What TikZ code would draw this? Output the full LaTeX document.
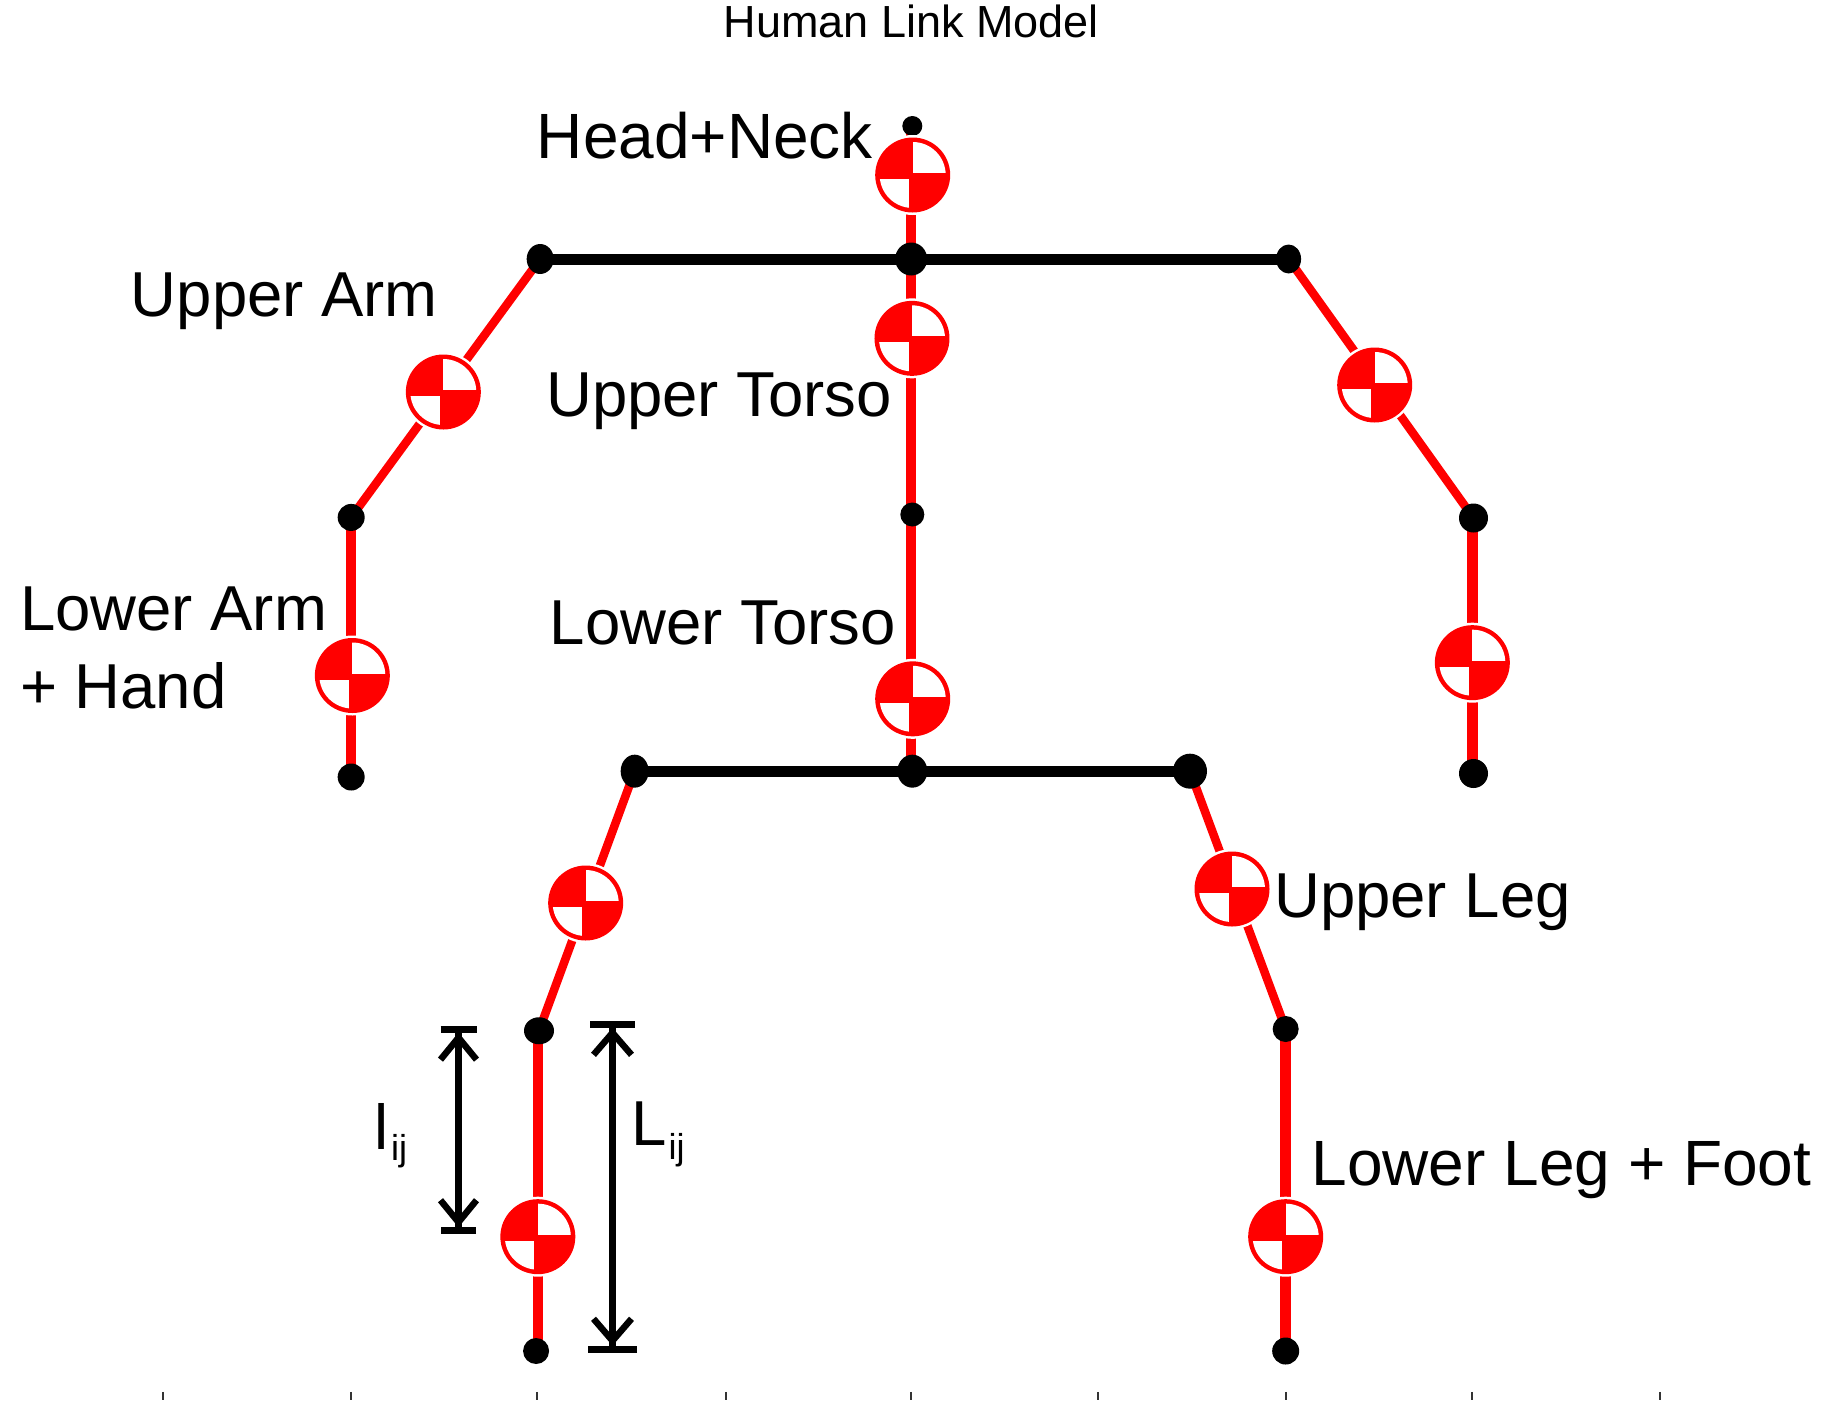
\documentclass[tikz,border=0pt]{standalone}
\usepackage{fontspec}
\setmainfont{Liberation Sans}
\usetikzlibrary{arrows.meta,backgrounds,shapes.geometric}
\tikzset{
  dot/.style={circle,fill=black,inner sep=0pt,minimum size=#1},
  dot/.default=24pt,
  oval/.style 2 args={ellipse,fill=black,inner sep=0pt,minimum width=#1,minimum height=#2},
  com/.style={circle,inner sep=0pt,minimum size=80pt,fill=white,
    path picture={
      \fill[red] (path picture bounding box.center) circle (37.5pt);
      \begin{scope}
        \clip (path picture bounding box.center) circle (33pt);
        \fill[white] ([yshift=2pt]path picture bounding box.center) rectangle ++(40pt,40pt);
        \fill[white] ([xshift=-3.4pt,yshift=-4pt]path picture bounding box.center) rectangle ++(-40pt,-40pt);
      \end{scope}
    }},
  redlink/.style={draw=red,line width=10.5pt},
  armlink/.style={draw=red,line width=8.5pt},
  barlink/.style={draw=black,line width=11pt},
  dim/.style={draw=black,line width=6.5pt,
    {Bar[width=36pt,line width=7pt,length=0pt]Straight Barb[length=22pt,width=36pt,line width=6.5pt]}-{Straight Barb[length=22pt,width=36pt,line width=6.5pt]Bar[width=35pt,line width=7pt,length=0pt]}},
  dimlong/.style={draw=black,line width=6.5pt,
    {Bar[width=45pt,line width=7pt,length=0pt]Straight Barb[length=22pt,width=38pt,line width=6.5pt]}-{Straight Barb[length=22pt,width=38pt,line width=6.5pt]Bar[width=49pt,line width=7pt,length=0pt]}},
  lab/.style={anchor=base west,inner sep=0pt,font=\fontsize{63.5}{64}\selectfont},
  labwide/.style={anchor=base west,inner sep=0pt,font=\fontsize{64}{64}\selectfont},
  ttl/.style={anchor=base,inner sep=0pt,font=\fontsize{45}{45}\selectfont},
  sub/.style={anchor=base west,inner sep=0pt,font=\fontsize{36}{36}\selectfont},
  tick/.style={draw=black!80,line width=2pt},
}
\begin{document}
\begin{tikzpicture}[x=1.16667pt,y=-1.16667pt]
\useasboundingbox (0,0) rectangle (1566.86,1200);
% title and labels
\node[ttl] (title) at (781,32.5) {Human Link Model};
\node[labwide] (lhead) at (460,136) {Head+Neck};
\node[lab] (luarm) at (112,271) {Upper Arm};
\node[lab] (lutorso) at (468,357) {Upper Torso};
\node[lab] (llarm) at (17,540) {Lower Arm};
\node[lab] (lhand) at (17,607) {+ Hand};
\node[lab] (lltorso) at (471,552) {Lower Torso};
\node[lab] (luleg) at (1092,786) {Upper Leg};
\node[labwide] (llleg) at (1124,1016) {Lower Leg + Foot};
\node[lab] (lsmall) at (321,985) {l};
\node[sub] (lsmallsub) at (335,995) {ij};
\node[lab] (lbig) at (541,982) {L};
\node[sub] (lbigsub) at (573,994) {ij};
% joints
\node[dot=20pt] (head) at (782,108) {};
\node[oval={27pt}{30pt}] (shL) at (463,222) {};
\node[oval={32pt}{33pt}] (neck) at (781,222) {};
\node[oval={25pt}{29pt}] (shR) at (1104.5,222) {};
\node[dot=27pt] (elL) at (301,443.5) {};
\node[dot=27pt] (wrL) at (301,666) {};
\node[dot=29pt] (elR) at (1263,444) {};
\node[dot=29pt] (wrR) at (1263,663) {};
\node[dot=24pt] (waist) at (782,441) {};
\node[oval={30pt}{33pt}] (pelvis) at (782,661) {};
\node[oval={28pt}{33pt}] (hipL) at (544,661) {};
\node[oval={34pt}{35pt}] (hipR) at (1020,661) {};
\node[oval={30pt}{27pt}] (knL) at (462,883.5) {};
\node[dot=26pt] (anL) at (459.5,1158) {};
\node[dot=26pt] (knR) at (1102,882) {};
\node[dot=27pt] (anR) at (1102,1158) {};
% centres of mass
\node[com] (cHead) at (782.3,150) {};
\node[com] (cUT) at (781.7,290) {};
\node[com] (cLT) at (782.3,599) {};
\node[com] (cUAL) at (380,336) {};
\node[com] (cLAL) at (302,579) {};
\node[com] (cUAR) at (1178.3,330) {};
\node[com] (cLAR) at (1262,568) {};
\node[com] (cULL) at (502,774) {};
\node[com] (cLLL) at (461,1060) {};
\node[com] (cULR) at (1056,762) {};
\node[com] (cLLR) at (1102,1060) {};
% dimension ends
\coordinate (lTop) at (393,879);
\coordinate (lBot) at (393,1058);
\coordinate (LTop) at (525,875);
\coordinate (LBot) at (525,1159.5);
\begin{pgfonlayer}{background}
\draw[redlink] (neck.center |- head.center) -- (neck.center |- pelvis.center);
\draw[armlink] (shL.center) -- (elL.center);
\draw[redlink] (elL.center) -- (wrL.center);
\draw[armlink] (shR.center) -- (elR.center);
\draw[redlink] (cLAR.center |- elR.center) -- (cLAR.center |- wrR.center);
\draw[armlink] (hipL.center) -- (knL.center);
\draw[redlink] (cLLL.center |- knL.center) -- (cLLL.center |- anL.center);
\draw[armlink] (hipR.center) -- (knR.center);
\draw[redlink] (knR.center) -- (anR.center);
\draw[barlink] (shL.center) -- (shR.center);
\draw[barlink] (hipL.center) -- (hipR.center);
\end{pgfonlayer}
\draw[dim] (lTop) -- (lBot);
\draw[dimlong] (LTop) -- (LBot);
\foreach \tx in {140,301,460,622,781,941,1102,1262,1423}
  \draw[tick] (\tx,1193) -- (\tx,1200);
\end{tikzpicture}
\end{document}
